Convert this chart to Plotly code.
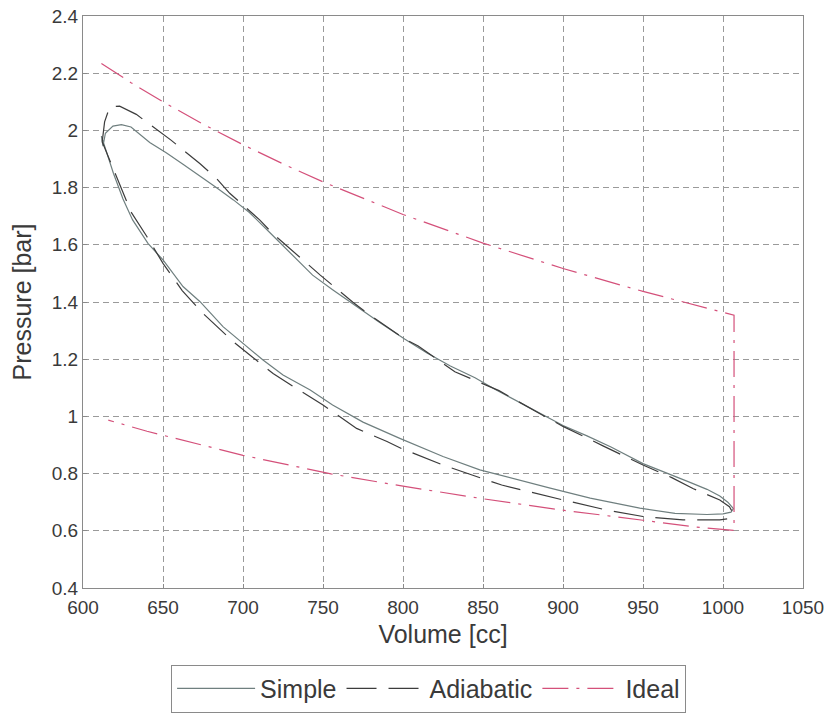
import plotly.graph_objects as go

# Pressure-volume loops: (volume [cc], pressure [bar]) traced around each cycle
simple_volume = [611.5, 612.5, 614.0, 618.7, 624.0, 630.0, 641.7, 652.0, 662.5, 673.0, 683.3, 694.0,
                 704.0, 716.7, 730.0, 743.5, 756.0, 769.0, 785.0, 801.0, 815.0, 829.6, 845.0, 858.0,
                 872.0, 887.0, 900.0, 915.0, 930.0, 950.0, 965.0, 979.0, 990.0, 998.0, 1003.0,
                 1006.5, 1005.0, 1000.0, 990.0, 970.0, 948.0, 917.0, 892.0, 870.0, 848.0, 825.0,
                 798.0, 775.0, 756.0, 742.0, 725.0, 712.5, 700.0, 687.5, 673.0, 662.5, 650.0,
                 640.6, 631.0, 625.0, 619.0, 615.0, 611.5]
simple_pressure = [1.980, 1.945, 1.990, 2.015, 2.020, 2.012, 1.958, 1.922, 1.882, 1.842, 1.800, 1.757,
                   1.713, 1.643, 1.568, 1.494, 1.443, 1.392, 1.330, 1.271, 1.222, 1.176, 1.135, 1.093,
                   1.051, 1.008, 0.968, 0.932, 0.893, 0.835, 0.800, 0.770, 0.745, 0.722, 0.700,
                   0.678, 0.665, 0.659, 0.657, 0.661, 0.679, 0.714, 0.749, 0.780, 0.813, 0.860,
                   0.923, 0.980, 1.040, 1.092, 1.145, 1.197, 1.256, 1.314, 1.402, 1.454, 1.547,
                   1.605, 1.687, 1.760, 1.850, 1.920, 1.980]

adiabatic_volume = [612.0, 613.5, 616.7, 622.9, 633.3, 644.0, 655.0, 662.5, 673.0, 683.3, 691.7,
                    700.0, 710.4, 719.0, 739.7, 748.3, 768.7, 777.9, 800.9, 809.5, 832.4, 845.0,
                    860.0, 887.0, 900.0, 925.0, 950.0, 968.0, 981.5, 998.0, 1004.0, 1006.5,
                    1004.0, 998.0, 975.0, 950.0, 927.0, 900.0, 887.7, 861.7, 852.0, 825.0, 799.0,
                    790.0, 771.0, 756.0, 750.0, 733.3, 718.8, 706.0, 693.8, 675.0, 662.0, 650.0,
                    640.0, 630.0, 620.0, 614.0, 612.0]
adiabatic_pressure = [1.960, 2.030, 2.082, 2.085, 2.056, 2.012, 1.966, 1.932, 1.884, 1.833, 1.780,
                      1.739, 1.687, 1.637, 1.535, 1.494, 1.399, 1.360, 1.271, 1.246, 1.156, 1.126,
                      1.090, 1.005, 0.965, 0.897, 0.830, 0.786, 0.747, 0.708, 0.684, 0.660,
                      0.643, 0.638, 0.638, 0.650, 0.673, 0.708, 0.725, 0.760, 0.778, 0.830, 0.888,
                      0.912, 0.958, 1.016, 1.040, 1.098, 1.150, 1.207, 1.262, 1.360, 1.440, 1.535,
                      1.628, 1.715, 1.850, 1.935, 1.960]

ideal_volume = [611.5, 630.0, 650.0, 675.0, 700.0, 725.0, 750.0, 800.0, 850.0, 900.0, 950.0, 998.9,
                1006.9, 1006.9, 1006.9, 981.6, 950.0, 900.0, 850.0, 800.0, 755.0, 700.0, 640.0, 615.8]
ideal_pressure = [2.234, 2.167, 2.100, 2.022, 1.950, 1.883, 1.820, 1.706, 1.606, 1.517, 1.437, 1.364,
                  1.354, 1.354, 0.601, 0.614, 0.637, 0.672, 0.712, 0.756, 0.799, 0.864, 0.948, 0.987]

x_ticks = [600, 650, 700, 750, 800, 850, 900, 950, 1000, 1050]
y_ticks = [0.4, 0.6, 0.8, 1.0, 1.2, 1.4, 1.6, 1.8, 2.0, 2.2, 2.4]
y_tick_text = ["0.4", "0.6", "0.8", "1", "1.2", "1.4", "1.6", "1.8", "2", "2.2", "2.4"]

FONT = "Liberation Sans, Arial, Helvetica, sans-serif"
TEXT = "#3a3a3a"

fig = go.Figure()
fig.add_trace(go.Scatter(x=simple_volume, y=simple_pressure, mode="lines", name="Simple",
                         line=dict(color="#6f7f7f", width=1.2)))
fig.add_trace(go.Scatter(x=adiabatic_volume, y=adiabatic_pressure, mode="lines", name="Adiabatic",
                         line=dict(color="#3c3c3c", width=1.2, dash="30px,12px")))
fig.add_trace(go.Scatter(x=ideal_volume, y=ideal_pressure, mode="lines", name="Ideal",
                         line=dict(color="#d4507a", width=1.2, dash="26px,8px,3px,8px")))

axis_common = dict(
    showline=True, linecolor="#8a8a8a", linewidth=1, mirror=True,
    showgrid=True, gridcolor="#9a9a9a", gridwidth=1, griddash="6px,4px",
    zeroline=False, ticks="inside", ticklen=4, tickcolor="#8a8a8a",
    tickfont=dict(family=FONT, size=19, color=TEXT), automargin=False,
)

fig.update_xaxes(range=[600, 1050], tickvals=x_ticks,
                 title=dict(text="Volume [cc]", font=dict(family=FONT, size=25, color=TEXT), standoff=8),
                 ticklabelstandoff=2, **axis_common)
fig.update_yaxes(range=[0.4, 2.4], tickvals=y_ticks, ticktext=y_tick_text,
                 title=dict(text="Pressure [bar]", font=dict(family=FONT, size=25, color=TEXT), standoff=13),
                 ticklabelstandoff=0, **axis_common)

fig.update_layout(
    width=831, height=716,
    margin=dict(l=83, r=28, t=16, b=128, autoexpand=False),
    plot_bgcolor="white", paper_bgcolor="white",
    font=dict(family=FONT, color=TEXT),
    legend=dict(orientation="h", x=0.48, xanchor="center", y=-0.218, yanchor="bottom",
                bordercolor="#8a8a8a", borderwidth=1, bgcolor="white",
                font=dict(family=FONT, size=25, color=TEXT), itemwidth=78),
    showlegend=True,
)

fig.write_html("out.html")
